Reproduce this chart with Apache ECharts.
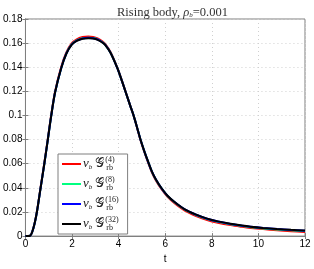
<!DOCTYPE html>
<html><head><meta charset="utf-8">
<script src="https://cdn.jsdelivr.net/npm/echarts@6/dist/echarts.min.js"></script>
<style>html,body{margin:0;padding:0;background:#fff}#c{width:314px;height:269px}</style>
</head><body><div id="c"></div>
<script>
const tValues = [0,0.2,0.3,0.4,0.5,0.65,0.81,0.96,1.1,1.27,1.53,1.75,1.98,2.2,2.45,2.7,2.9,3.1,3.3,3.42,3.65,3.94,4.1,4.3,4.5,4.65,4.8,4.93,5.1,5.25,5.43,5.6,5.85,6.1,6.4,6.84,7.3,7.8,8.26,8.8,9.3,9.67,10.2,10.8,11.4,12];
const vb32 = [0,0.0003,0.004,0.011,0.021,0.040,0.060,0.080,0.099,0.119,0.139,0.151,0.1585,0.1618,0.1636,0.1641,0.1638,0.1627,0.1605,0.1585,0.152,0.1395,0.131,0.1195,0.108,0.0995,0.0895,0.0805,0.0705,0.0625,0.0535,0.047,0.0395,0.0335,0.0283,0.0222,0.018,0.0145,0.0122,0.0102,0.0087,0.0078,0.0068,0.0059,0.0052,0.0046];
const vb16 = [0,0.0003,0.004,0.011,0.021,0.040,0.060,0.080,0.099,0.119,0.139,0.1512,0.1588,0.1621,0.1639,0.1644,0.1641,0.1630,0.1607,0.1587,0.1521,0.1395,0.131,0.1195,0.108,0.0995,0.0895,0.0805,0.0705,0.0624,0.0534,0.0469,0.0394,0.0334,0.0282,0.0221,0.0179,0.0144,0.0121,0.0101,0.0086,0.0077,0.0067,0.0058,0.0051,0.0045];
const vb8 = [0,0.0003,0.004,0.011,0.021,0.040,0.060,0.080,0.099,0.119,0.139,0.1513,0.1589,0.1622,0.1640,0.1645,0.1642,0.1631,0.1608,0.1588,0.1522,0.1396,0.131,0.1195,0.108,0.0995,0.0895,0.0805,0.0704,0.0623,0.0533,0.0468,0.0393,0.0332,0.0280,0.0219,0.0177,0.0141,0.0118,0.0098,0.0083,0.0074,0.0064,0.0055,0.0048,0.0042];
const vb4 = [0,0.0003,0.0042,0.0113,0.0213,0.0405,0.0606,0.0807,0.0998,0.1198,0.1400,0.1521,0.1598,0.1632,0.1650,0.1655,0.1651,0.1639,0.1615,0.1594,0.1527,0.1399,0.1312,0.1196,0.108,0.0994,0.0893,0.0802,0.0700,0.0618,0.0527,0.0462,0.0386,0.0325,0.0272,0.0211,0.0169,0.0134,0.0111,0.0091,0.0077,0.0068,0.0058,0.0049,0.0041,0.0033];
const seriesNames = ['(4)','(8)','(16)','(32)'];
const seriesColors = ['#ff0000','#00ff80','#0000ff','#000000'];
const seriesValues = [vb4, vb8, vb16, vb32];

const chart = echarts.init(document.getElementById('c'), null, {renderer:'canvas'});
const sans = 'Liberation Sans, Arial, sans-serif';
const serif = 'Liberation Serif, Times New Roman, serif';
const axisCommon = {
  axisLine:{show:true,lineStyle:{color:'#7f7f7f',width:1}},
  axisTick:{show:true,inside:true,length:3,lineStyle:{color:'#7f7f7f'}},
  axisLabel:{color:'#000',fontFamily:sans,fontSize:10},
};
chart.setOption({
  animation:false,
  title:{text:'Rising body, {i|ρ}{s|b}=0.001',left:112,top:1,
    textStyle:{fontFamily:serif,fontSize:12.5,fontWeight:'normal',color:'#333',
      rich:{i:{fontFamily:serif,fontStyle:'italic',fontSize:12.5,color:'#333'},s:{fontFamily:serif,fontStyle:'italic',fontSize:7,color:'#333',verticalAlign:'bottom',padding:[4,0,0,0]}}}},
  grid:{left:22,right:9,top:19,bottom:26,show:true,borderColor:'#7f7f7f',borderWidth:1},
  legend:{
    orient:'vertical',left:58,top:154,itemWidth:19,itemHeight:2,itemGap:4,
    backgroundColor:'#fff',borderColor:'#7f7f7f',borderWidth:1,padding:[2,9,2,4],
    icon:'rect',
    data:seriesNames,
    formatter:function(name){
      return '{v|v}{vs|b} {g|𝒢}{sup|'+name+'}{sub|rb}';
    },
    textStyle:{fontFamily:serif,fontSize:12,color:'#222',padding:[0,0,0,-3],
      rich:{
        v:{fontFamily:serif,fontStyle:'italic',fontSize:13,color:'#222'},
        vs:{fontFamily:serif,fontStyle:'italic',fontSize:7,color:'#222',padding:[6,0,0,0]},
        g:{fontFamily:'DejaVu Serif, serif',fontSize:13,color:'#222'},
        sup:{fontFamily:serif,fontSize:8,color:'#222',width:0.01,padding:[0,0,8,1]},
        sub:{fontFamily:serif,fontSize:8,color:'#222',padding:[8,0,0,1]}
      }}
  },
  xAxis:[{type:'value',min:0,max:12,interval:2,position:'bottom',...axisCommon,
    name:'t',nameLocation:'middle',nameGap:11,nameTextStyle:{fontFamily:sans,fontSize:10,color:'#000'},
    axisLabel:{...axisCommon.axisLabel,margin:3},
    splitLine:{show:true,lineStyle:{color:'#d0d0d0',type:[1,3],width:1}}},
    {type:'value',min:0,max:12,interval:2,position:'top',...axisCommon,axisLabel:{show:false},splitLine:{show:false}}],
  yAxis:[{type:'value',min:0,max:0.18,interval:0.02,position:'left',...axisCommon,
    axisLabel:{...axisCommon.axisLabel,margin:3,formatter:v=>String(parseFloat(v.toFixed(2)))},
    splitLine:{show:true,lineStyle:{color:'#d0d0d0',type:[1,3],width:1}}},
    {type:'value',min:0,max:0.18,interval:0.02,position:'right',...axisCommon,axisLabel:{show:false},splitLine:{show:false}}],
  series: seriesValues.map((vals,i)=>({
    name:seriesNames[i],type:'line',smooth:0.3,showSymbol:false,symbol:'none',
    data:tValues.map((t,j)=>[t,vals[j]]),
    lineStyle:{color:seriesColors[i],width:2},itemStyle:{color:seriesColors[i]},z:2+i
  }))
});
</script></body></html>
